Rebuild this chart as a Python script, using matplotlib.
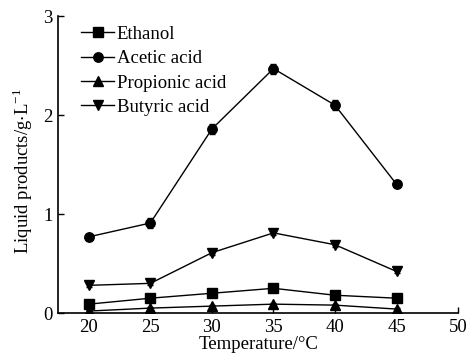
import matplotlib
matplotlib.use("Agg")
import matplotlib.pyplot as plt

plt.rcParams['font.family'] = ['Liberation Serif', 'DejaVu Serif']
plt.rcParams['mathtext.fontset'] = 'stix'

temperature = [20, 25, 30, 35, 40, 45]
ethanol = [0.09, 0.15, 0.20, 0.25, 0.18, 0.15]
acetic = [0.77, 0.91, 1.86, 2.47, 2.10, 1.30]
propionic = [0.02, 0.05, 0.07, 0.09, 0.08, 0.04]
butyric = [0.28, 0.30, 0.61, 0.81, 0.69, 0.42]

ethanol_err = [0.01, 0.01, 0.015, 0.015, 0.01, 0.01]
acetic_err = [0.02, 0.05, 0.05, 0.05, 0.05, 0.02]
propionic_err = [0.01, 0.01, 0.01, 0.01, 0.01, 0.01]
butyric_err = [0.02, 0.02, 0.02, 0.02, 0.02, 0.02]

xticks = [20, 25, 30, 35, 40, 45, 50]
yticks = [0, 1, 2, 3]

fs = 13.5
fig = plt.figure(figsize=(4.68, 3.59), dpi=100)
ax = fig.add_axes([0.124, 0.128, 0.855, 0.827])

series = [
    ("Ethanol", ethanol, ethanol_err, "s"),
    ("Acetic acid", acetic, acetic_err, "o"),
    ("Propionic acid", propionic, propionic_err, "^"),
    ("Butyric acid", butyric, butyric_err, "v"),
]
for name, vals, err, mk in series:
    ax.errorbar(temperature, vals, yerr=err, color="black", marker=mk,
                markersize=6.8, linewidth=1.0, elinewidth=1.0, capsize=2.5,
                capthick=1.0, label=name)

ax.set_xlim(17.5, 50)
ax.set_ylim(0, 3)
ax.set_xticks(xticks)
ax.set_yticks(yticks)
ax.tick_params(direction="in", length=4, width=1, labelsize=fs,
               colors="black", pad=4)
ax.spines["top"].set_visible(False)
ax.spines["right"].set_visible(False)
for s in ("left", "bottom"):
    ax.spines[s].set_linewidth(1.2)

ax.set_xlabel("Temperature/°C", fontsize=fs, labelpad=0)
ax.set_ylabel(r"Liquid products/g$\cdot$L$^{\mathregular{-1}}$", fontsize=13.5)
ax.yaxis.set_label_coords(-0.058, 0.48)

handles, labels = ax.get_legend_handles_labels()
handles = [h[0] for h in handles]
ax.legend(handles, labels, loc="upper left", bbox_to_anchor=(0.03, 1.005),
          frameon=False, fontsize=fs, handlelength=1.75, handletextpad=0.15,
          labelspacing=0.38, borderaxespad=0.2)

fig.savefig("out.png", dpi=100)
